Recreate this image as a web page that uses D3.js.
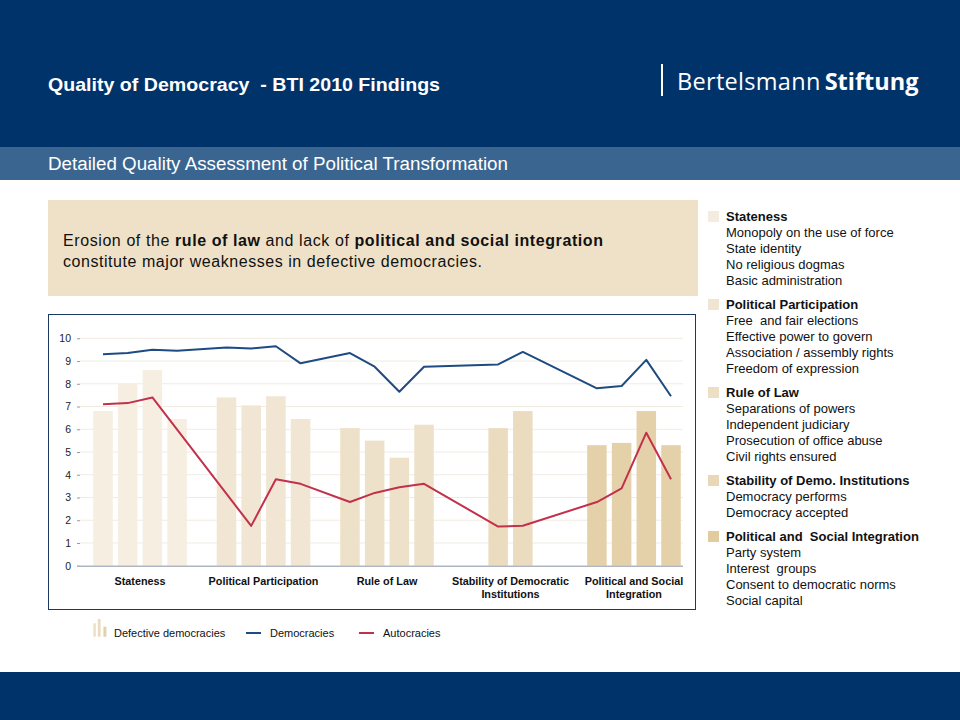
<!DOCTYPE html>
<html><head><meta charset="utf-8">
<script src="https://cdn.jsdelivr.net/npm/d3@7"></script>
<style>
html,body{margin:0;padding:0;background:#fff;}
svg{display:block;font-family:"Liberation Sans",Arial,sans-serif;}
</style></head>
<body>
<svg id="c" width="960" height="720"></svg>
<script>
// ---------- data ----------
const groups = ["Stateness","Political Participation","Rule of Law","Stability of Democratic Institutions","Political and Social Integration"];
const groupLabels = [["Stateness"],["Political Participation"],["Rule of Law"],["Stability of Democratic","Institutions"],["Political and Social","Integration"]];
const legendHeads = ["Stateness","Political Participation","Rule of Law","Stability of Demo. Institutions","Political and  Social Integration"];
const indicators = [
  ["Monopoly on the use of force","State identity","No religious dogmas","Basic administration"],
  ["Free  and fair elections","Effective power to govern","Association / assembly rights","Freedom of expression"],
  ["Separations of powers","Independent judiciary","Prosecution of office abuse","Civil rights ensured"],
  ["Democracy performs","Democracy accepted"],
  ["Party system","Interest  groups","Consent to democratic norms","Social capital"]
];
const defective   = [6.8, 8.0, 8.6, 6.45,  7.4, 7.05, 7.45, 6.45,  6.05, 5.5, 4.75, 6.2,  6.05, 6.8,  5.3, 5.4, 6.8, 5.3];
const democracies = [9.3, 9.35, 9.5, 9.45, 9.6, 9.55, 9.65, 8.9,  9.35, 8.75, 7.65, 8.75, 8.85, 9.4,  7.8, 7.9, 9.05, 7.45];
const autocracies = [7.1, 7.15, 7.4, null, null, 1.75, 3.8, 3.6,  2.8, 3.2, 3.45, 3.6,  1.72, 1.76, 2.8, 3.4, 5.85, 3.8];
const yTicks = [0,1,2,3,4,5,6,7,8,9,10];
const seriesNames = ["Defective democracies","Democracies","Autocracies"];

// ---------- styles ----------
const navy = "#00336a", band2 = "#3a6590";
const groupColors = ["#f5eee1","#f0e6d3","#eee1c9","#ebdcbf","#e4d1a9"];
const squareColors = ["#f3ecdf","#efe5d2","#ecdfc4","#e9d8b7","#e2cc9f"];
const blue = "#1d4b82", red = "#c3304b";

const svg = d3.select("#c");

// header
svg.append("rect").attr("x",0).attr("y",0).attr("width",960).attr("height",147).attr("fill",navy);
svg.append("text").attr("x",48).attr("y",91).attr("fill","#fff").attr("font-size",19).attr("font-weight","bold")
  .attr("textLength",392).attr("lengthAdjust","spacingAndGlyphs")
  .style("white-space","pre").text("Quality of Democracy  - BTI 2010 Findings");
svg.append("rect").attr("x",661).attr("y",64).attr("width",2).attr("height",32).attr("fill","#fff");
const logo = svg.append("text").attr("x",677).attr("y",90).attr("fill","#fff").attr("font-size",23.5)
  .attr("font-family","'Open Sans','Noto Sans',sans-serif");
logo.append("tspan").attr("letter-spacing",0.3).text("Bertelsmann");
logo.append("tspan").attr("font-weight","bold").attr("dx",4).text("Stiftung");

svg.append("rect").attr("x",0).attr("y",147).attr("width",960).attr("height",33).attr("fill",band2);
svg.append("text").attr("x",48).attr("y",170).attr("fill","#fff").attr("font-size",18)
  .attr("textLength",460).attr("lengthAdjust","spacingAndGlyphs")
  .text("Detailed Quality Assessment of Political Transformation");

// footer
svg.append("rect").attr("x",0).attr("y",672).attr("width",960).attr("height",48).attr("fill",navy);

// message box
svg.append("rect").attr("x",48).attr("y",200).attr("width",650).attr("height",96).attr("fill","#efe1c7");
const m1 = svg.append("text").attr("x",63).attr("y",246).attr("font-size",16).attr("fill","#111")
  .attr("textLength",540).attr("lengthAdjust","spacing");
m1.append("tspan").text("Erosion of the ");
m1.append("tspan").attr("font-weight","bold").text("rule of law");
m1.append("tspan").text(" and lack of ");
m1.append("tspan").attr("font-weight","bold").text("political and social integration");
svg.append("text").attr("x",63).attr("y",267).attr("font-size",16).attr("fill","#111")
  .attr("textLength",419).attr("lengthAdjust","spacing")
  .text("constitute major weaknesses in defective democracies.");

// chart frame
svg.append("rect").attr("x",48.5).attr("y",314.5).attr("width",647).attr("height",295)
  .attr("fill","#fff").attr("stroke","#1b3a63").attr("stroke-width",1);

// build slots
const groupGaps = [1,1,2,2,0];
const items = [];
let slot = 0;
groups.forEach((g,gi)=>{
  indicators[gi].forEach((ind,ii)=>{
    const k = items.length;
    items.push({slot, group:gi, name:ind, def:defective[k], dem:democracies[k], aut:autocracies[k]});
    slot++;
  });
  slot += groupGaps[gi];
});
const nSlots = slot;
const x = d3.scalePoint().domain(d3.range(nSlots)).range([90.65,683.35]).padding(0.5);
const step = x.step();
const bw = step*0.79;
const y = d3.scaleLinear().domain([0,10]).range([565.7,338.3]);

// gridlines
svg.append("g").selectAll("line").data(yTicks.filter(t=>t>0)).join("line")
  .attr("x1",80).attr("x2",683).attr("y1",d=>y(d)).attr("y2",d=>y(d))
  .attr("stroke","#f1ece2").attr("stroke-width",1);

// y axis
const yAxis = d3.axisLeft(y).tickValues(yTicks).tickSize(3).tickPadding(6).tickFormat(d3.format("d"));
const ya = svg.append("g").attr("transform","translate(80,0)").call(yAxis);
ya.select(".domain").remove();
ya.selectAll(".tick line").attr("stroke","#999");
ya.selectAll(".tick text").attr("font-size",10.5).attr("fill","#222").attr("font-family","'Liberation Sans',Arial,sans-serif");

// bars
svg.append("g").selectAll("rect").data(items).join("rect")
  .attr("x",d=>x(d.slot)-bw/2).attr("width",bw)
  .attr("y",d=>y(d.def)).attr("height",d=>y(0)-y(d.def))
  .attr("fill",d=>groupColors[d.group]);

// baseline
svg.append("line").attr("x1",77).attr("x2",683).attr("y1",y(0)+0.5).attr("y2",y(0)+0.5)
  .attr("stroke","#aeb6c4").attr("stroke-width",1.5);

// lines
const lineGen = key => d3.line().x(d=>x(d.slot)).y(d=>y(d[key]));
svg.append("path").datum(items.filter(d=>d.dem!=null)).attr("d",lineGen("dem"))
  .attr("fill","none").attr("stroke",blue).attr("stroke-width",2).attr("stroke-linejoin","round");
svg.append("path").datum(items.filter(d=>d.aut!=null)).attr("d",lineGen("aut"))
  .attr("fill","none").attr("stroke",red).attr("stroke-width",2).attr("stroke-linejoin","round");

// category labels
groups.forEach((g,gi)=>{
  const its = items.filter(d=>d.group===gi);
  const cx = (x(its[0].slot)+x(its[its.length-1].slot))/2;
  const t = svg.append("text").attr("x",cx).attr("y",585).attr("text-anchor","middle")
    .attr("font-size",10.8).attr("font-weight","bold").attr("fill","#111");
  groupLabels[gi].forEach((ln,li)=>{
    t.append("tspan").attr("x",cx).attr("dy",li===0?0:13).text(ln);
  });
});

// legend below
const lg = svg.append("g");
[[93.3,623.3,2.6],[97.8,619,2.8],[103.4,626.7,3]].forEach(([bx,by,w],i)=>{
  lg.append("rect").attr("x",bx).attr("y",by).attr("width",w).attr("height",636.7-by).attr("fill",groupColors[i+2]);
});
lg.append("text").attr("x",114).attr("y",637).attr("font-size",11).attr("fill","#111").text(seriesNames[0]);
lg.append("line").attr("x1",246).attr("x2",261).attr("y1",633).attr("y2",633).attr("stroke",blue).attr("stroke-width",2);
lg.append("text").attr("x",270).attr("y",637).attr("font-size",11).attr("fill","#111").text(seriesNames[1]);
lg.append("line").attr("x1",359).attr("x2",374).attr("y1",633).attr("y2",633).attr("stroke",red).attr("stroke-width",2);
lg.append("text").attr("x",383).attr("y",637).attr("font-size",11).attr("fill","#111").text(seriesNames[2]);

// right side list
let ly = 221;
legendHeads.forEach((h,gi)=>{
  svg.append("rect").attr("x",708).attr("y",ly-10).attr("width",11).attr("height",11).attr("fill",squareColors[gi]);
  svg.append("text").attr("x",726).attr("y",ly).attr("font-size",13).attr("font-weight","bold").attr("fill","#111")
    .style("white-space","pre").text(h);
  indicators[gi].forEach((ind,ii)=>{
    svg.append("text").attr("x",726).attr("y",ly+16*(ii+1)).attr("font-size",13).attr("fill","#111")
      .style("white-space","pre").text(ind);
  });
  ly += 16*(indicators[gi].length) + 24;
});
</script>
</body></html>
